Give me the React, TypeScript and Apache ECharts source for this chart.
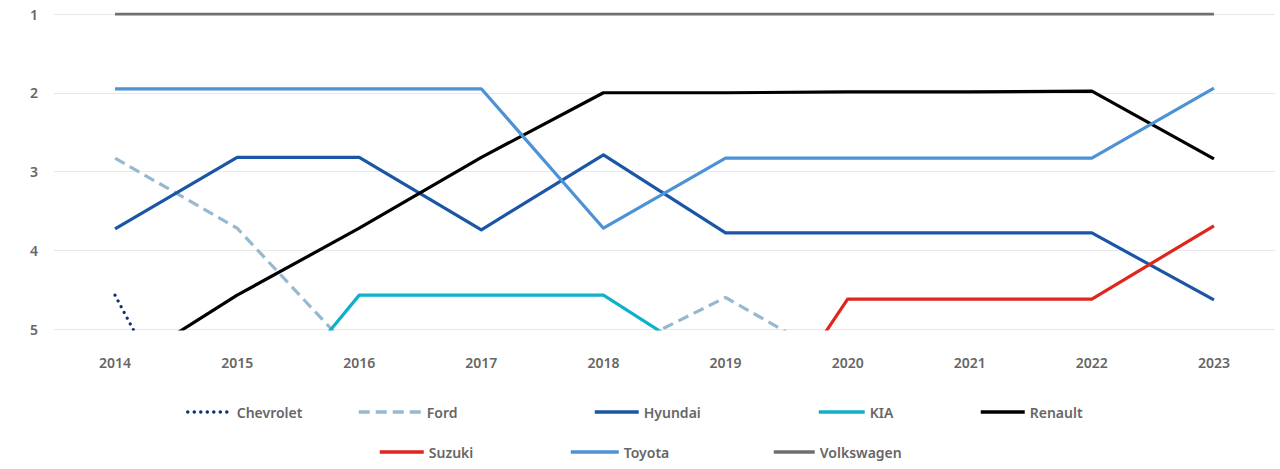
import React, { useEffect, useRef } from "react";
import * as echarts from "echarts";

const years = ["2014", "2015", "2016", "2017", "2018", "2019", "2020", "2021", "2022", "2023"];
const rankTicks = [1, 2, 3, 4, 5];

const chevrolet = [4.57, 7.5, null, null, null, null, null, null, null, null];
const ford = [2.83, 3.72, 5.38, 6.2, 5.37, 4.6, 5.48, null, null, null];
const hyundai = [3.73, 2.82, 2.82, 3.74, 2.79, 3.78, 3.78, 3.78, 3.78, 4.63];
const kia = [null, 6.45, 4.57, 4.57, 4.57, 5.56, null, null, null, null];
const renault = [5.55, 4.57, 3.72, 2.82, 2.0, 2.0, 1.99, 1.99, 1.98, 2.84];
const suzuki = [null, null, null, null, null, 6.94, 4.62, 4.62, 4.62, 3.69];
const toyota = [1.95, 1.95, 1.95, 1.95, 3.72, 2.83, 2.83, 2.83, 2.83, 1.94];
const volkswagen = [1, 1, 1, 1, 1, 1, 1, 1, 1, 1];

const seriesDefs = [
  { name: "Chevrolet", data: chevrolet, color: "#0b2f72", type: [0.01, 6.5] as any, cap: "round", legend: { left: 186, top: 405, w: 44 } },
  { name: "Ford", data: ford, color: "#97b9cf", type: [11, 6] as any, cap: "butt", legend: { left: 357, top: 405, w: 63 } },
  { name: "Hyundai", data: hyundai, color: "#1a55a6", type: "solid", cap: "butt", legend: { left: 593, top: 405, w: 44 } },
  { name: "KIA", data: kia, color: "#0fb0ca", type: "solid", cap: "butt", legend: { left: 817, top: 405, w: 46 } },
  { name: "Renault", data: renault, color: "#000000", type: "solid", cap: "butt", legend: { left: 979, top: 405, w: 44 } },
  { name: "Suzuki", data: suzuki, color: "#e0261c", type: "solid", cap: "butt", legend: { left: 378, top: 445, w: 44 } },
  { name: "Toyota", data: toyota, color: "#4d92d6", type: "solid", cap: "butt", legend: { left: 569, top: 445, w: 48 } },
  { name: "Volkswagen", data: volkswagen, color: "#6f6f72", type: "solid", cap: "butt", legend: { left: 772, top: 445, w: 41 } },
];

const FONT = "'Noto Sans', sans-serif";
const TEXT = "#666666";

export default function App() {
  const ref = useRef<HTMLDivElement>(null);
  useEffect(() => {
    if (!ref.current) return;
    const chart = echarts.init(ref.current, undefined, { renderer: "svg" });
    chart.setOption({
      animation: false,
      backgroundColor: "#ffffff",
      grid: { left: 54, right: 5, top: 14, bottom: 140, containLabel: false },
      xAxis: {
        type: "category",
        data: years,
        boundaryGap: true,
        axisLine: { show: false },
        axisTick: { show: false },
        splitLine: { show: false },
        axisLabel: { margin: 26, color: TEXT, fontFamily: FONT, fontSize: 14, fontWeight: 600 },
      },
      yAxis: {
        type: "value",
        inverse: true,
        min: rankTicks[0],
        max: rankTicks[rankTicks.length - 1],
        interval: 1,
        axisLine: { show: false },
        axisTick: { show: false },
        splitLine: { show: true, lineStyle: { color: "#e8e8e8", width: 1 } },
        axisLabel: { margin: 16, color: TEXT, fontFamily: FONT, fontSize: 14, fontWeight: 600 },
      },
      legend: seriesDefs.map((s) => ({
        data: [s.name],
        left: s.legend.left,
        top: s.legend.top,
        padding: 0,
        itemWidth: s.legend.w,
        itemHeight: 14,
        selectedMode: false,
        itemStyle: { opacity: 0 },
        lineStyle: { width: 3.5 },
        textStyle: { color: TEXT, fontFamily: FONT, fontSize: 14, fontWeight: 600 },
      })),
      series: seriesDefs.map((s) => ({
        name: s.name,
        type: "line",
        data: s.data,
        symbol: "none",
        showSymbol: false,
        connectNulls: false,
        clip: true,
        color: s.color,
        lineStyle: { color: s.color, width: 3.2, type: s.type, cap: s.cap, join: "round" },
        emphasis: { disabled: true },
      })),
    });
    return () => chart.dispose();
  }, []);
  return (
    <div
      ref={ref}
      style={{ position: "fixed", left: 0, top: 0, width: 1280, height: 469, background: "#fff" }}
    />
  );
}
